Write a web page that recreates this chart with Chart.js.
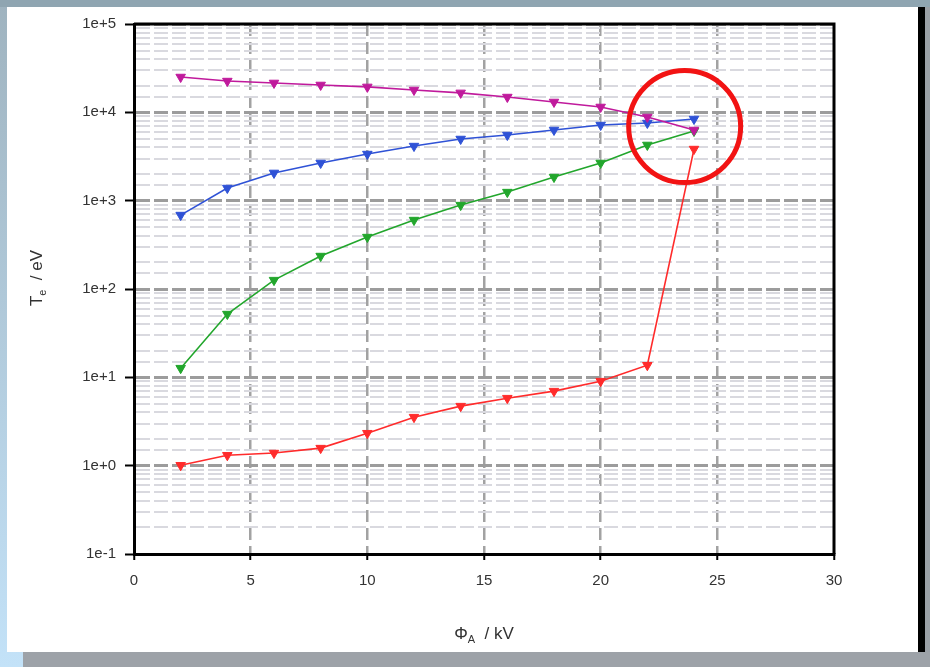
<!DOCTYPE html>
<html>
<head>
<meta charset="utf-8">
<script src="https://cdn.jsdelivr.net/npm/chart.js@4/dist/chart.umd.min.js"></script>
<style>
  html, body { margin: 0; padding: 0; }
  body { width: 930px; height: 667px; position: relative; overflow: hidden;
         background: linear-gradient(#9fb3bf, #c3e2f8); }
  #topStrip { position: absolute; left: 0; top: 0; width: 930px; height: 7px; background: #8fa5b1; }
  #panel { position: absolute; left: 7px; top: 7px; width: 911px; height: 645px; background: #fff; }
  #bar { position: absolute; left: 918px; top: 7px; width: 7px; height: 645px; background: #000; }
  #rightHatch { position: absolute; left: 925px; top: 7px; width: 5px; height: 660px; background: #9aa0a6; }
  #bottomHatch { position: absolute; left: 23px; top: 652px; width: 907px; height: 15px; background: #9da2a8; }
  #wrap { position: absolute; left: 0; top: 0; width: 930px; height: 667px; }
</style>
</head>
<body>
<div id="topStrip"></div>
<div id="panel"></div>
<div id="bar"></div>
<div id="rightHatch"></div>
<div id="bottomHatch"></div>
<div id="wrap"><canvas id="myChart" width="930" height="667"></canvas></div>
<script>
// Valores (Phi_A en kV, Te en eV)
const voltajes = [2, 4, 6, 8, 10, 12, 14, 16, 18, 20, 22, 24];
const serieMagenta = [25100, 22600, 21500, 20400, 19400, 17900, 16600, 14900, 13100, 11500, 8850, 6310];
const serieAzul = [687, 1390, 2060, 2670, 3370, 4150, 4990, 5530, 6310, 7180, 7570, 8400];
const serieVerde = [12.7, 52, 126, 236, 387, 603, 891, 1250, 1850, 2670, 4270, 6140];
const serieRoja = [1.01, 1.31, 1.39, 1.58, 2.33, 3.54, 4.72, 5.81, 6.98, 9.05, 13.7, 3840];
const xTicks = [0, 5, 10, 15, 20, 25, 30];

const series = [
    { label: 'magenta', valores: serieMagenta, color: '#c01a9c' },
    { label: 'azul', valores: serieAzul, color: '#2f52d6' },
    { label: 'verde', valores: serieVerde, color: '#22a62c' },
    { label: 'roja', valores: serieRoja, color: '#ff2b2b' }
];

const datasets = series.map(s => {
    return {
        label: s.label,
        data: voltajes.map((v, i) => ({ x: v, y: s.valores[i] })),
        borderColor: s.color,
        backgroundColor: s.color,
        borderWidth: 1.6,
        pointStyle: 'triangle',
        rotation: 180,
        pointRadius: 5.5,
        pointBorderWidth: 1
    };
});

const esMayor = v => Math.abs(Math.log10(v) - Math.round(Math.log10(v))) < 1e-6;

// Marco superior/derecho, títulos de ejes y círculo rojo
const extras = {
    id: 'extras',
    afterDatasetsDraw(chart) {
        const { ctx, chartArea: a, scales } = chart;
        ctx.save();
        ctx.strokeStyle = '#000';
        ctx.lineWidth = 3;
        ctx.beginPath();
        ctx.moveTo(a.left, a.top);
        ctx.lineTo(a.right, a.top);
        ctx.lineTo(a.right, a.bottom);
        ctx.stroke();

        // círculo de la anotación
        const cx = scales.x.getPixelForValue(23.6);
        const cy = scales.y.getPixelForValue(6900);
        ctx.strokeStyle = '#f21313';
        ctx.lineWidth = 5;
        ctx.beginPath();
        ctx.arc(cx, cy, 56, 0, Math.PI * 2);
        ctx.stroke();

        // título eje x: Φ_A / kV
        ctx.fillStyle = '#333';
        ctx.textBaseline = 'alphabetic';
        ctx.font = '17px "Liberation Sans", Arial, sans-serif';
        const w1 = ctx.measureText('Φ').width;
        ctx.font = '11px "Liberation Sans", Arial, sans-serif';
        const w2 = ctx.measureText('A').width;
        ctx.font = '17px "Liberation Sans", Arial, sans-serif';
        const w3 = ctx.measureText('  / kV').width;
        let x0 = 484 - (w1 + w2 + w3) / 2;
        const yb = 639;
        ctx.fillText('Φ', x0, yb);
        ctx.font = '11px "Liberation Sans", Arial, sans-serif';
        ctx.fillText('A', x0 + w1, yb + 4);
        ctx.font = '17px "Liberation Sans", Arial, sans-serif';
        ctx.fillText('  / kV', x0 + w1 + w2, yb);

        // título eje y: Te / eV
        ctx.translate(42, 278);
        ctx.rotate(-Math.PI / 2);
        const t1 = ctx.measureText('T').width;
        ctx.font = '11px "Liberation Sans", Arial, sans-serif';
        const t2 = ctx.measureText('e').width;
        ctx.font = '17px "Liberation Sans", Arial, sans-serif';
        const t3 = ctx.measureText('  / eV').width;
        let y0 = -(t1 + t2 + t3) / 2;
        ctx.fillText('T', y0, 0);
        ctx.font = '11px "Liberation Sans", Arial, sans-serif';
        ctx.fillText('e', y0 + t1, 4);
        ctx.font = '17px "Liberation Sans", Arial, sans-serif';
        ctx.fillText('  / eV', y0 + t1 + t2, 0);
        ctx.restore();
    }
};

const ctx = document.getElementById('myChart').getContext('2d');
new Chart(ctx, {
    type: 'line',
    data: { datasets: datasets },
    options: {
        responsive: false,
        animation: false,
        layout: { padding: { left: 0, top: 24, right: 96, bottom: 68 } },
        plugins: { legend: { display: false }, tooltip: { enabled: false } },
        scales: {
            x: {
                type: 'linear',
                min: 0,
                max: 30,
                afterFit: s => { s.height = 45; },
                afterBuildTicks: s => { s.ticks = xTicks.map(v => ({ value: v })); },
                ticks: {
                    color: '#333',
                    font: { family: '"Liberation Sans", Arial, sans-serif', size: 15 },
                    padding: 12,
                    maxRotation: 0,
                    autoSkip: false
                },
                grid: {
                    color: c => (c.tick && (c.tick.value === 0 || c.tick.value === 30)) ? 'rgba(0,0,0,0)' : '#a2a2a2',
                    lineWidth: 2.5,
                    tickColor: '#000',
                    tickLength: 6,
                    tickWidth: 2
                },
                border: { color: '#000', width: 3, dash: [12, 6] }
            },
            y: {
                type: 'logarithmic',
                min: 0.1,
                max: 100000,
                afterFit: s => { s.width = 134; },
                ticks: {
                    autoSkip: false,
                    color: '#333',
                    font: { family: '"Liberation Sans", Arial, sans-serif', size: 15 },
                    padding: 9,
                    callback: v => esMayor(v) ? Number(v).toExponential(0) : ''
                },
                grid: {
                    color: c => (c.tick && esMayor(c.tick.value)) ? '#9c9c9c' : '#d9d9df',
                    lineWidth: c => (c.tick && esMayor(c.tick.value)) ? 3 : 2,
                    tickColor: c => (c.tick && esMayor(c.tick.value)) ? '#000' : 'rgba(0,0,0,0)',
                    tickLength: 9,
                    tickWidth: 2
                },
                border: { color: '#000', width: 3, dash: [14, 4] }
            }
        }
    },
    plugins: [extras]
});
</script>
</body>
</html>
